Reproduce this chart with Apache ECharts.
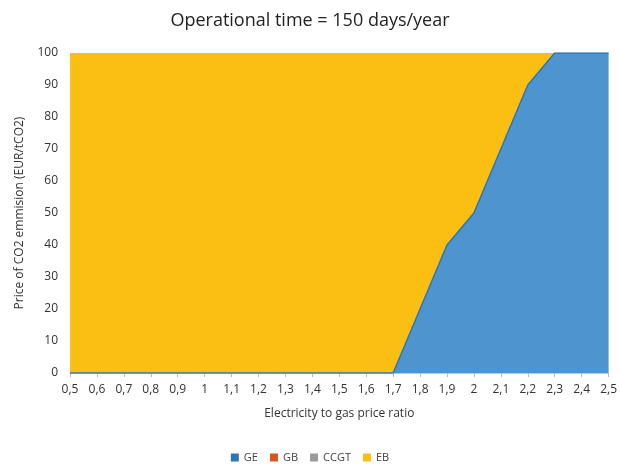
<!DOCTYPE html>
<html>
<head>
<meta charset="utf-8">
<script src="https://cdn.jsdelivr.net/npm/echarts@6/dist/echarts.min.js"></script>
<style>
  html, body { margin: 0; padding: 0; background: #fff; }
  #chart { width: 620px; height: 465px; }
</style>
</head>
<body>
<div id="chart"></div>
<script>
const ratios = ['0,5', '0,6', '0,7', '0,8', '0,9', '1', '1,1', '1,2', '1,3', '1,4', '1,5',
  '1,6', '1,7', '1,8', '1,9', '2', '2,1', '2,2', '2,3', '2,4', '2,5']
const geValues = [0, 0, 0, 0, 0, 0, 0, 0, 0, 0, 0, 0, 0, 20, 40, 50, 70, 90, 100, 100, 100]
const gbValues = [0, 0, 0, 0, 0, 0, 0, 0, 0, 0, 0, 0, 0, 0, 0, 0, 0, 0, 0, 0, 0]
const ccgtValues = [0, 0, 0, 0, 0, 0, 0, 0, 0, 0, 0, 0, 0, 0, 0, 0, 0, 0, 0, 0, 0]
const ebValues = [100, 100, 100, 100, 100, 100, 100, 100, 100, 100, 100, 100, 100, 80, 60, 50, 30, 10, 0, 0, 0]

const font = '"Open Sans", "Liberation Sans", sans-serif'
const chart = echarts.init(document.getElementById('chart'))

function areaSeries(name, data, fill, line, lineWidth) {
  return {
    name, type: 'line', stack: 'total', data,
    symbol: 'none', silent: true,
    lineStyle: { width: lineWidth, color: line },
    areaStyle: { color: fill, opacity: 1 },
    itemStyle: { color: line },
  }
}

chart.setOption({
  animation: false,
  textStyle: { fontFamily: font },
  title: {
    text: 'Operational time = 150 days/year',
    left: 'center', top: 7,
    textStyle: { fontFamily: font, fontSize: 18, fontWeight: 'normal', color: '#222' },
  },
  legend: {
    bottom: -3, left: 'center',
    itemWidth: 8, itemHeight: 8, itemGap: 12,
    icon: 'rect',
    textStyle: { fontFamily: font, fontSize: 11, color: '#444' },
    data: [
      { name: 'GE', itemStyle: { color: '#2e75b6' } },
      { name: 'GB', itemStyle: { color: '#d9541e' } },
      { name: 'CCGT', itemStyle: { color: '#9b9b9b' } },
      { name: 'EB', itemStyle: { color: '#fbbf14' } },
    ],
  },
  grid: { left: 70, right: 8, top: 53, bottom: 92 },
  xAxis: {
    type: 'category', data: ratios, boundaryGap: false,
    name: 'Electricity to gas price ratio', nameLocation: 'middle', nameGap: 35,
    nameTextStyle: { fontFamily: font, fontSize: 12, color: '#333' },
    axisLine: { lineStyle: { color: '#c8c8c8' } },
    axisTick: { show: true, length: 4, lineStyle: { color: '#bbb' } },
    axisLabel: { fontFamily: font, fontSize: 12, color: '#333', margin: 11 },
    splitLine: { show: false },
  },
  yAxis: {
    type: 'value', min: 0, max: 100, interval: 10,
    name: 'Price of CO2 emmision (EUR/tCO2)', nameLocation: 'middle', nameGap: 44,
    nameTextStyle: { fontFamily: font, fontSize: 12, color: '#333' },
    axisLine: { show: false },
    axisTick: { show: false },
    axisLabel: { fontFamily: font, fontSize: 12, color: '#333', margin: 12 },
    splitLine: { show: false },
  },
  series: [
    areaSeries('GE', geValues, '#4e95d0', '#2e75b6', 1.5),
    areaSeries('GB', gbValues, '#d9541e', '#d9541e', 0),
    areaSeries('CCGT', ccgtValues, '#9b9b9b', '#9b9b9b', 0),
    areaSeries('EB', ebValues, '#fbbf14', '#fbbf14', 0),
  ],
})
</script>
</body>
</html>
